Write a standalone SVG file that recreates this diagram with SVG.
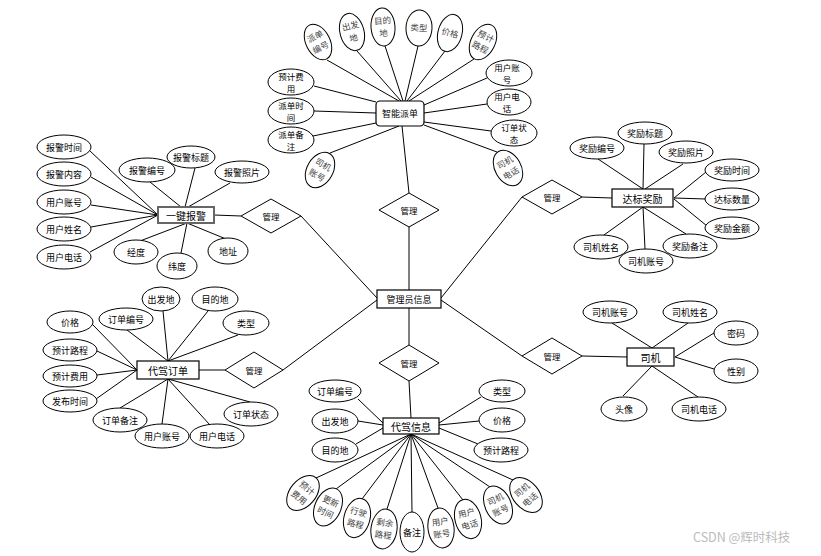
<svg xmlns="http://www.w3.org/2000/svg" width="821" height="556" viewBox="0 0 821 556">
<style>
.e{fill:#fff;stroke:#000;stroke-width:1}
.r{fill:#fff;stroke:#000;stroke-width:1.2}
.d{fill:#fff;stroke:#000;stroke-width:1}
.t{font-family:"Noto Sans CJK SC","Noto Sans",sans-serif;font-size:9px;fill:#000;text-anchor:middle;dominant-baseline:central}
.t2{font-family:"Noto Sans CJK SC","Noto Sans",sans-serif;font-size:10px;fill:#000;text-anchor:middle;dominant-baseline:central}
.tw{font-family:"Noto Sans CJK SC","Noto Sans",sans-serif;font-size:8.5px;fill:#000;text-anchor:middle;dominant-baseline:central}
.s{font-family:"Liberation Serif","Noto Sans CJK SC",serif;font-size:8.5px;fill:#444;text-anchor:middle;dominant-baseline:central}
.dt{font-family:"Noto Sans CJK SC","Noto Sans",sans-serif;font-size:8.5px;fill:#000;text-anchor:middle;dominant-baseline:central}
#connectors line{stroke:#000;stroke-width:1}
</style>
<rect width="821" height="556" fill="#fff"/>
<g id="connectors">
<line x1="409" y1="227" x2="409" y2="290"/>
<line x1="409" y1="308" x2="409" y2="345"/>
<line x1="301" y1="216" x2="377" y2="298"/>
<line x1="522" y1="197" x2="441" y2="298"/>
<line x1="283" y1="370" x2="377" y2="300"/>
<line x1="441" y1="300" x2="522" y2="356"/>
<line x1="409" y1="193" x2="402" y2="126"/>
<line x1="409" y1="381" x2="411" y2="418"/>
<line x1="214" y1="215" x2="241" y2="216"/>
<line x1="582" y1="197" x2="612" y2="198"/>
<line x1="199" y1="370" x2="225" y2="370"/>
<line x1="582" y1="356" x2="627" y2="357"/>
<line x1="327" y1="60" x2="399" y2="101"/>
<line x1="357" y1="51" x2="401" y2="101"/>
<line x1="385" y1="46" x2="403" y2="101"/>
<line x1="418" y1="46" x2="405" y2="101"/>
<line x1="445" y1="51" x2="407" y2="101"/>
<line x1="474" y1="59" x2="409" y2="101"/>
<line x1="314" y1="86" x2="376" y2="102"/>
<line x1="314" y1="111" x2="376" y2="113"/>
<line x1="313" y1="136" x2="376" y2="123"/>
<line x1="487" y1="78" x2="424" y2="105"/>
<line x1="487" y1="104" x2="424" y2="113"/>
<line x1="491" y1="131" x2="424" y2="122"/>
<line x1="330" y1="153" x2="399" y2="126"/>
<line x1="497" y1="152" x2="424" y2="125"/>
<line x1="90" y1="151" x2="158" y2="215"/>
<line x1="91" y1="177" x2="158" y2="215"/>
<line x1="91" y1="205" x2="158" y2="215"/>
<line x1="91" y1="227" x2="158" y2="215"/>
<line x1="90" y1="252" x2="158" y2="215"/>
<line x1="150" y1="182" x2="181" y2="207"/>
<line x1="195" y1="168" x2="185" y2="207"/>
<line x1="230" y1="183" x2="188" y2="207"/>
<line x1="140" y1="241" x2="187" y2="223"/>
<line x1="181" y1="253" x2="187" y2="223"/>
<line x1="226" y1="239" x2="187" y2="223"/>
<line x1="598" y1="159" x2="643" y2="189"/>
<line x1="644" y1="144" x2="643" y2="189"/>
<line x1="683" y1="164" x2="645" y2="189"/>
<line x1="706" y1="172" x2="674" y2="198"/>
<line x1="706" y1="199" x2="674" y2="198"/>
<line x1="707" y1="226" x2="674" y2="199"/>
<line x1="686" y1="234" x2="643" y2="207"/>
<line x1="645" y1="249" x2="643" y2="207"/>
<line x1="604" y1="235" x2="643" y2="207"/>
<line x1="127" y1="330" x2="168" y2="361"/>
<line x1="163" y1="311" x2="168" y2="361"/>
<line x1="208" y1="311" x2="168" y2="361"/>
<line x1="238" y1="335" x2="168" y2="361"/>
<line x1="92" y1="324" x2="137" y2="370"/>
<line x1="97" y1="351" x2="137" y2="370"/>
<line x1="97" y1="375" x2="137" y2="370"/>
<line x1="96" y1="399" x2="137" y2="370"/>
<line x1="120" y1="408" x2="168" y2="379"/>
<line x1="162" y1="424" x2="168" y2="379"/>
<line x1="210" y1="425" x2="168" y2="379"/>
<line x1="250" y1="402" x2="168" y2="379"/>
<line x1="358" y1="399" x2="383" y2="423"/>
<line x1="358" y1="421" x2="383" y2="425"/>
<line x1="356" y1="444" x2="383" y2="428"/>
<line x1="481" y1="397" x2="439" y2="423"/>
<line x1="479" y1="421" x2="439" y2="425"/>
<line x1="478" y1="444" x2="439" y2="428"/>
<line x1="316" y1="478" x2="411" y2="434"/>
<line x1="336" y1="489" x2="411" y2="434"/>
<line x1="362" y1="499" x2="411" y2="434"/>
<line x1="387" y1="509" x2="411" y2="434"/>
<line x1="412" y1="512" x2="411" y2="434"/>
<line x1="438" y1="508" x2="411" y2="434"/>
<line x1="463" y1="500" x2="411" y2="434"/>
<line x1="490" y1="487" x2="411" y2="434"/>
<line x1="513" y1="480" x2="411" y2="434"/>
<line x1="612" y1="323" x2="652" y2="348"/>
<line x1="688" y1="323" x2="652" y2="348"/>
<line x1="714" y1="333" x2="675" y2="357"/>
<line x1="714" y1="369" x2="675" y2="357"/>
<line x1="623" y1="396" x2="652" y2="366"/>
<line x1="698" y1="397" x2="652" y2="366"/>
</g>

<g id="rel-top"><polygon class="d" points="409,193 439,210 409,227 379,210"/><text class="dt" x="409" y="210">管理</text></g>
<g id="rel-bottom"><polygon class="d" points="409,345 439,363 409,381 379,363"/><text class="dt" x="409" y="363">管理</text></g>
<g id="rel-left-up"><polygon class="d" points="241,216 271,199 301,216 271,233"/><text class="dt" x="271" y="216">管理</text></g>
<g id="rel-right-up"><polygon class="d" points="522,197 552,180 582,197 552,214"/><text class="dt" x="552" y="197">管理</text></g>
<g id="rel-left-low"><polygon class="d" points="225,370 254,352 283,370 254,388"/><text class="dt" x="254" y="370">管理</text></g>
<g id="rel-right-low"><polygon class="d" points="522,356 552,338 582,356 552,374"/><text class="dt" x="552" y="356">管理</text></g>

<g id="admin"><rect class="r" x="377" y="290" width="64" height="18"/><text class="t" x="409" y="299">管理员信息</text></g>

<g id="dispatch"><rect class="r" x="376" y="101" width="48" height="25" rx="4"/><text class="t" x="400" y="113.5">智能派单</text></g>
<g id="d-a1" transform="translate(318,42) rotate(-27)"><ellipse class="e" rx="12" ry="19"/><text class="s" y="-6.2">派单</text><text class="s" y="6.2">编号</text></g>
<g id="d-a2" transform="translate(352,32) rotate(-15)"><ellipse class="e" rx="12" ry="19"/><text class="s" y="-6.2">出发</text><text class="s" y="6.2">地</text></g>
<g id="d-a3" transform="translate(383,27) rotate(-4)"><ellipse class="e" rx="12" ry="19"/><text class="s" y="-6.2">目的</text><text class="s" y="6.2">地</text></g>
<g id="d-a4" transform="translate(419,28) rotate(3)"><ellipse class="e" rx="13" ry="18"/><text class="s" y="0">类型</text></g>
<g id="d-a5" transform="translate(450,33) rotate(15)"><ellipse class="e" rx="12" ry="19"/><text class="s" y="0">价格</text></g>
<g id="d-a6" transform="translate(483,42) rotate(27)"><ellipse class="e" rx="12" ry="19"/><text class="s" y="-6.2">预计</text><text class="s" y="6.2">路程</text></g>
<g id="d-a7"><ellipse class="e" cx="291" cy="82" rx="23" ry="13"/><text class="tw" x="291" y="75.8">预计费</text><text class="tw" x="291" y="88.2">用</text></g>
<g id="d-a8"><ellipse class="e" cx="291" cy="111" rx="23" ry="13"/><text class="tw" x="291" y="104.8">派单时</text><text class="tw" x="291" y="117.2">间</text></g>
<g id="d-a9"><ellipse class="e" cx="291" cy="140" rx="23" ry="13"/><text class="tw" x="291" y="133.8">派单备</text><text class="tw" x="291" y="146.2">注</text></g>
<g id="d-a10"><ellipse class="e" cx="509" cy="73" rx="23" ry="13"/><text class="tw" x="507" y="66.8">用户账</text><text class="tw" x="507" y="79.2">号</text></g>
<g id="d-a11"><ellipse class="e" cx="509" cy="102" rx="22" ry="13"/><text class="tw" x="507" y="95.8">用户电</text><text class="tw" x="507" y="108.2">话</text></g>
<g id="d-a12"><ellipse class="e" cx="514" cy="133" rx="23" ry="13"/><text class="tw" x="514" y="126.8">订单状</text><text class="tw" x="514" y="139.2">态</text></g>
<g id="d-a13" transform="translate(320,170) rotate(30)"><ellipse class="e" rx="13" ry="19"/><text class="s" y="-6.2">司机</text><text class="s" y="6.2">账号</text></g>
<g id="d-a14" transform="translate(508,168) rotate(-30)"><ellipse class="e" rx="13" ry="19"/><text class="s" y="-6.2">司机</text><text class="s" y="6.2">电话</text></g>

<g id="alarm"><rect x="158" y="207" width="56" height="16" fill="#fff" stroke="#666" stroke-width="2"/><text class="t2" x="186" y="215">一键报警</text></g>
<g id="a-1"><ellipse class="e" cx="64" cy="147" rx="27" ry="12"/><text class="t" x="64" y="147">报警时间</text></g>
<g id="a-2"><ellipse class="e" cx="64" cy="174" rx="27" ry="12"/><text class="t" x="64" y="174">报警内容</text></g>
<g id="a-3"><ellipse class="e" cx="64" cy="202" rx="27" ry="12"/><text class="t" x="64" y="202">用户账号</text></g>
<g id="a-4"><ellipse class="e" cx="64" cy="229" rx="27" ry="12"/><text class="t" x="64" y="229">用户姓名</text></g>
<g id="a-5"><ellipse class="e" cx="64" cy="257" rx="27" ry="12"/><text class="t" x="64" y="257">用户电话</text></g>
<g id="a-6"><ellipse class="e" cx="147" cy="170" rx="28" ry="12"/><text class="t" x="147" y="170">报警编号</text></g>
<g id="a-7"><ellipse class="e" cx="191" cy="157" rx="24" ry="11"/><text class="t" x="191" y="157">报警标题</text></g>
<g id="a-8"><ellipse class="e" cx="242" cy="172" rx="27" ry="11"/><text class="t" x="242" y="172">报警照片</text></g>
<g id="a-9"><ellipse class="e" cx="136" cy="252" rx="22" ry="12"/><text class="t" x="136" y="252">经度</text></g>
<g id="a-10"><ellipse class="e" cx="177" cy="266" rx="20" ry="13"/><text class="t" x="177" y="266">纬度</text></g>
<g id="a-11"><ellipse class="e" cx="228" cy="251" rx="20" ry="13"/><text class="t" x="228" y="251">地址</text></g>

<g id="reward"><rect class="r" x="612" y="189" width="61" height="18"/><text class="t2" x="642.5" y="198">达标奖励</text></g>
<g id="r-1"><ellipse class="e" cx="597" cy="148" rx="27" ry="11"/><text class="t" x="597" y="148">奖励编号</text></g>
<g id="r-2"><ellipse class="e" cx="645" cy="133" rx="27" ry="11"/><text class="t" x="645" y="133">奖励标题</text></g>
<g id="r-3"><ellipse class="e" cx="686" cy="152" rx="27" ry="11"/><text class="t" x="686" y="152">奖励照片</text></g>
<g id="r-4"><ellipse class="e" cx="732" cy="170" rx="27" ry="11"/><text class="t" x="732" y="170">奖励时间</text></g>
<g id="r-5"><ellipse class="e" cx="732" cy="199" rx="27" ry="11"/><text class="t" x="732" y="199">达标数量</text></g>
<g id="r-6"><ellipse class="e" cx="732" cy="228" rx="27" ry="11"/><text class="t" x="732" y="228">奖励金额</text></g>
<g id="r-7"><ellipse class="e" cx="690" cy="246" rx="27" ry="12"/><text class="t" x="690" y="246">奖励备注</text></g>
<g id="r-8"><ellipse class="e" cx="646" cy="261" rx="27" ry="12"/><text class="t" x="646" y="261">司机账号</text></g>
<g id="r-9"><ellipse class="e" cx="601" cy="247" rx="27" ry="12"/><text class="t" x="601" y="247">司机姓名</text></g>

<g id="order"><rect class="r" x="137" y="361" width="62" height="18"/><text class="t2" x="168" y="370">代驾订单</text></g>
<g id="o-1"><ellipse class="e" cx="161" cy="299" rx="19" ry="12"/><text class="t" x="161" y="299">出发地</text></g>
<g id="o-2"><ellipse class="e" cx="215" cy="299" rx="23" ry="12"/><text class="t" x="215" y="299">目的地</text></g>
<g id="o-3"><ellipse class="e" cx="246" cy="323" rx="23" ry="12"/><text class="t" x="246" y="323">类型</text></g>
<g id="o-4"><ellipse class="e" cx="126" cy="319" rx="27" ry="11"/><text class="t" x="126" y="319">订单编号</text></g>
<g id="o-5"><ellipse class="e" cx="70" cy="322" rx="23" ry="11"/><text class="t" x="70" y="322">价格</text></g>
<g id="o-6"><ellipse class="e" cx="70" cy="350" rx="27" ry="11"/><text class="t" x="70" y="350">预计路程</text></g>
<g id="o-7"><ellipse class="e" cx="70" cy="376" rx="27" ry="11"/><text class="t" x="70" y="376">预计费用</text></g>
<g id="o-8"><ellipse class="e" cx="70" cy="401" rx="27" ry="11"/><text class="t" x="70" y="401">发布时间</text></g>
<g id="o-9"><ellipse class="e" cx="120" cy="420" rx="27" ry="12"/><text class="t" x="120" y="420">订单备注</text></g>
<g id="o-10"><ellipse class="e" cx="162" cy="436" rx="27" ry="12"/><text class="t" x="162" y="436">用户账号</text></g>
<g id="o-11"><ellipse class="e" cx="217" cy="436" rx="27" ry="12"/><text class="t" x="217" y="436">用户电话</text></g>
<g id="o-12"><ellipse class="e" cx="251" cy="414" rx="27" ry="12"/><text class="t" x="251" y="414">订单状态</text></g>

<g id="info"><rect class="r" x="383" y="418" width="56" height="16"/><text class="t2" x="411" y="426">代驾信息</text></g>
<g id="i-1"><ellipse class="e" cx="335" cy="391" rx="26" ry="11"/><text class="t" x="335" y="391">订单编号</text></g>
<g id="i-2"><ellipse class="e" cx="335" cy="421" rx="23" ry="12"/><text class="t" x="335" y="421">出发地</text></g>
<g id="i-3"><ellipse class="e" cx="335" cy="450" rx="23" ry="12"/><text class="t" x="335" y="450">目的地</text></g>
<g id="i-4"><ellipse class="e" cx="502" cy="391" rx="23" ry="11"/><text class="t" x="502" y="391">类型</text></g>
<g id="i-5"><ellipse class="e" cx="502" cy="420" rx="23" ry="12"/><text class="t" x="502" y="420">价格</text></g>
<g id="i-6"><ellipse class="e" cx="501" cy="450" rx="27" ry="12"/><text class="t" x="501" y="450">预计路程</text></g>
<g id="i-7" transform="translate(303,493) rotate(40)"><ellipse class="e" rx="13" ry="20"/><text class="s" y="-6.2">预计</text><text class="s" y="6.2">费用</text></g>
<g id="i-8" transform="translate(328,507) rotate(25)"><ellipse class="e" rx="13" ry="20"/><text class="s" y="-6.2">更新</text><text class="s" y="6.2">时间</text></g>
<g id="i-9" transform="translate(357,518) rotate(15)"><ellipse class="e" rx="13" ry="20"/><text class="s" y="-6.2">行驶</text><text class="s" y="6.2">路程</text></g>
<g id="i-10" transform="translate(384,529) rotate(8)"><ellipse class="e" rx="13" ry="20"/><text class="s" y="-6.2">剩余</text><text class="s" y="6.2">路程</text></g>
<g id="i-11" transform="translate(412,532)"><ellipse class="e" rx="12" ry="20"/><text class="t" y="0">备注</text></g>
<g id="i-12" transform="translate(441,528) rotate(-8)"><ellipse class="e" rx="13" ry="20"/><text class="s" y="-6.2">用户</text><text class="s" y="6.2">账号</text></g>
<g id="i-13" transform="translate(468,519) rotate(-15)"><ellipse class="e" rx="13" ry="20"/><text class="s" y="-6.2">用户</text><text class="s" y="6.2">电话</text></g>
<g id="i-14" transform="translate(498,505) rotate(-25)"><ellipse class="e" rx="13" ry="20"/><text class="s" y="-6.2">司机</text><text class="s" y="6.2">账号</text></g>
<g id="i-15" transform="translate(526,495) rotate(-40)"><ellipse class="e" rx="13" ry="20"/><text class="s" y="-6.2">司机</text><text class="s" y="6.2">电话</text></g>

<g id="driver"><rect class="r" x="627" y="348" width="47" height="18"/><text class="t2" x="650.5" y="357">司机</text></g>
<g id="dr-1"><ellipse class="e" cx="610" cy="312" rx="27" ry="11"/><text class="t" x="610" y="312">司机账号</text></g>
<g id="dr-2"><ellipse class="e" cx="690" cy="312" rx="27" ry="11"/><text class="t" x="690" y="312">司机姓名</text></g>
<g id="dr-3"><ellipse class="e" cx="736" cy="333" rx="22" ry="12"/><text class="t" x="736" y="333">密码</text></g>
<g id="dr-4"><ellipse class="e" cx="736" cy="371" rx="22" ry="12"/><text class="t" x="736" y="371">性别</text></g>
<g id="dr-5"><ellipse class="e" cx="624" cy="409" rx="23" ry="12"/><text class="t" x="624" y="409">头像</text></g>
<g id="dr-6"><ellipse class="e" cx="699" cy="409" rx="27" ry="12"/><text class="t" x="699" y="409">司机电话</text></g>

<text x="693" y="542" font-family="'Noto Sans CJK SC','Noto Sans',sans-serif" font-size="12.5" fill="#bbb">CSDN @辉时科技</text>
</svg>
